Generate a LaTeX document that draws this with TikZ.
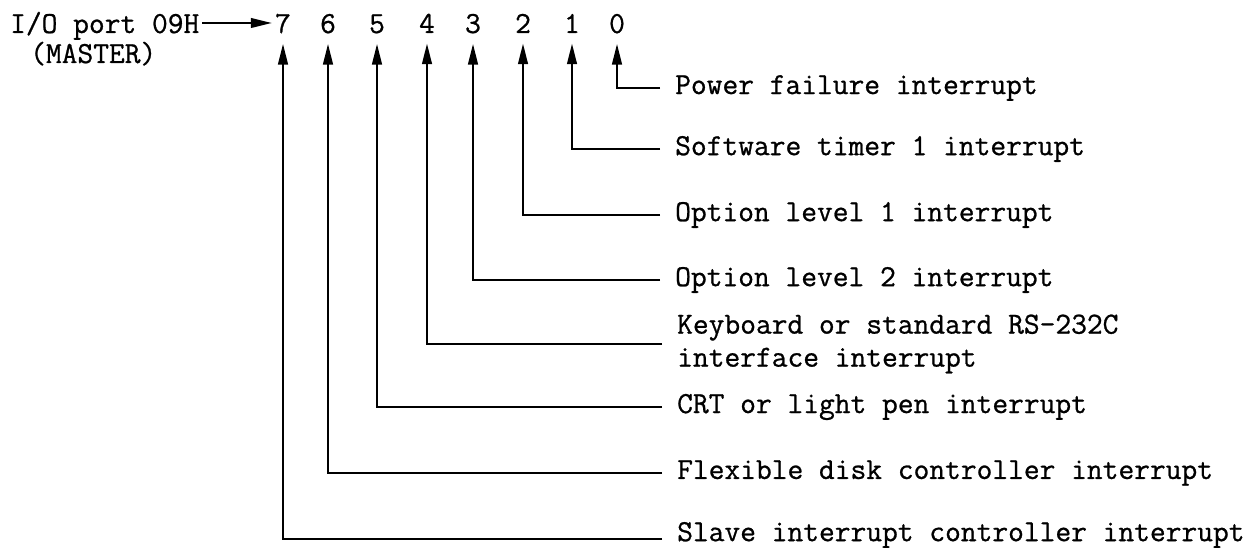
\documentclass[tikz,border=0pt]{standalone}
\usepackage{fontspec}
\newfontfamily\typewr{Latin Modern Mono}[FakeBold=0.8]
\usetikzlibrary{arrows.meta}
\begin{document}
\begin{tikzpicture}[x=1pt,y=-1pt,
  every node/.style={inner sep=0pt, font=\fontsize{30.6}{33}\selectfont\typewr},
  wire/.style={line width=2.2pt, -{Triangle[length=21pt,width=9.5pt]}},
  bitline/.style={wire, line width=2.8pt, shorten >=10pt},
  lbl/.style={anchor=west, align=left}]
\useasboundingbox (0,0) rectangle (1257,548);
\node[anchor=base west] (io) at (10,33) {I/O port 09H};
\node[anchor=base west] (ms) at (30,63) {(MASTER)};
\foreach \b/\x in {7/283,6/328,5/377,4/427,3/473,2/523,1/572,0/617}
  \node[anchor=base] (d\b) at (\x,33) {\b};
\node[lbl] (l0) at (675,88) {Power failure interrupt};
\node[lbl] (l1) at (675,149) {Software timer 1 interrupt};
\node[lbl] (l2) at (675,215) {Option level 1 interrupt};
\node[lbl] (l3) at (675,280) {Option level 2 interrupt};
\node[lbl] (l4) at (677,344) {Keyboard or standard RS-232C\\interface interrupt};
\node[lbl] (l5) at (677,407) {CRT or light pen interrupt};
\node[lbl] (l6) at (677,473) {Flexible disk controller interrupt};
\node[lbl] (l7) at (677,535) {Slave interrupt controller interrupt};
\draw[wire] ([shift={(3pt,10pt)}]io.base east) -- ([shift={(-3pt,10pt)}]d7.base west);
\foreach \b in {0,...,6}
  \draw[bitline] (l\b.west) ++(-15,0) -| (d\b.south);
\draw[bitline] ([shift={(-15pt,-4pt)}]l7.west) -| (d7.south);
\end{tikzpicture}
\end{document}
